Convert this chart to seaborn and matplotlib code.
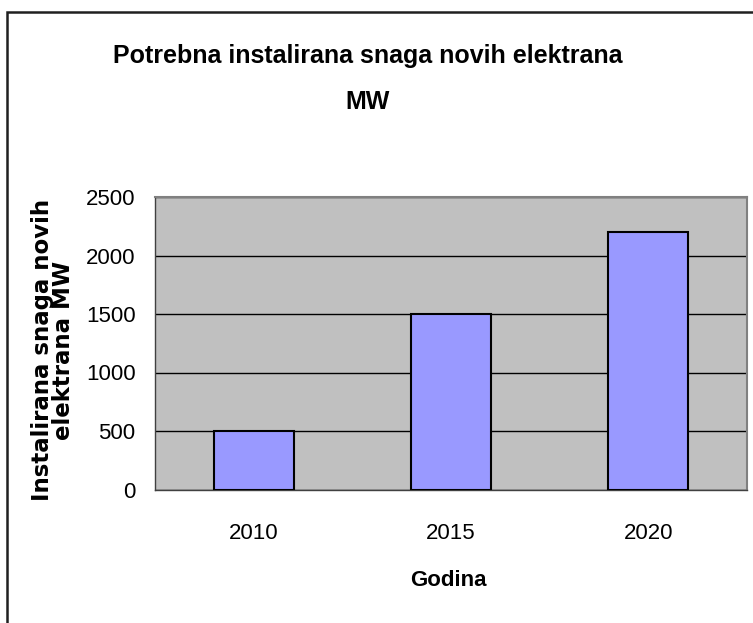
import matplotlib
matplotlib.use("Agg")
import matplotlib.pyplot as plt
from matplotlib.patches import Rectangle
import seaborn as sns
import pandas as pd

# --- DATA ---
years = ["2010", "2015", "2020"]
snaga_mw = [500, 1500, 2200]
y_ticks = [0, 500, 1000, 1500, 2000, 2500]

title_text = "Potrebna instalirana snaga novih elektrana\nMW"
x_label = "Godina"
y_label = "Instalirana snaga novih\nelektrana MW"

sns.set_style("white")
plt.rcParams["font.family"] = ["Liberation Sans", "DejaVu Sans"]
plt.rcParams["text.color"] = "black"
plt.rcParams["axes.labelcolor"] = "black"
plt.rcParams["xtick.color"] = "black"
plt.rcParams["ytick.color"] = "black"

df = pd.DataFrame({"Godina": years, "MW": snaga_mw})

fig = plt.figure(figsize=(7.53, 6.23), dpi=100)
ax = fig.add_axes([155 / 753, 1 - 489.5 / 623, 592 / 753, 292.5 / 623])
ax.set_facecolor("#C0C0C0")

sns.barplot(data=df, x="Godina", y="MW", color="#9999FF", width=0.405,
            edgecolor="black", linewidth=1.5, saturation=1, ax=ax, zorder=3)

ax.set_ylim(0, 2500)
ax.set_xlim(-0.5, 2.5)
ax.set_yticks(y_ticks)
ax.set_yticklabels([str(t) for t in y_ticks], fontsize=16)
ax.set_xticks(range(len(years)))
ax.set_xticklabels(years, fontsize=16)
ax.set_xticks([-0.5, 0.5, 1.5, 2.5], minor=True)
ax.tick_params(axis="x", which="major", length=0, pad=24)
ax.tick_params(axis="x", which="minor", length=8, width=1, color="black", direction="out")
ax.tick_params(axis="y", length=6, width=1, color="black", direction="out", pad=8)
ax.yaxis.grid(True, color="black", linewidth=1, zorder=1)
ax.set_axisbelow(True)

for side in ["top", "right"]:
    ax.spines[side].set_color("#808080")
    ax.spines[side].set_linewidth(1.5)
for side in ["left", "bottom"]:
    ax.spines[side].set_color("#404040")
    ax.spines[side].set_linewidth(1)

ax.set_xlabel("")
ax.set_ylabel("")
fig.text(448 / 753, 1 - 580 / 623, x_label, ha="center", va="center",
         fontsize=16, fontweight="bold")
fig.text(53 / 753, 1 - 350 / 623, y_label, rotation=90, ha="center", va="center",
         fontsize=16.5, fontweight="bold", family="DejaVu Sans", linespacing=0.9)

fig.text(368 / 753, 1 - 79 / 623, title_text, ha="center", va="center",
         fontsize=18, fontweight="bold", linespacing=2.2)

# outer chart border (cut off at right and bottom like the original)
fig.patches.append(Rectangle((7 / 753, -0.2), 1.3, 1.18, transform=fig.transFigure,
                             fill=False, edgecolor="#202020", linewidth=1.8))

fig.savefig("out.png", dpi=100)
